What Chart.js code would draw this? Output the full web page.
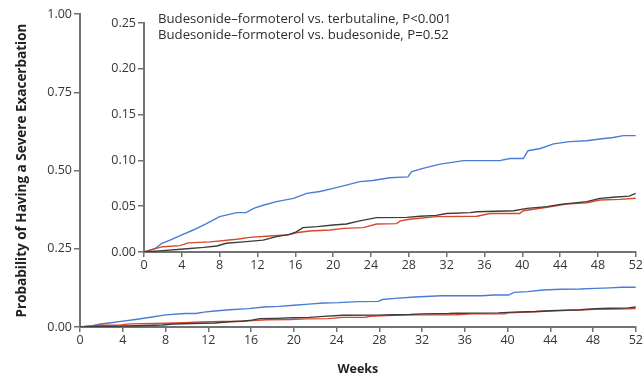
<!DOCTYPE html>
<html>
<head>
<meta charset="utf-8">
<script src="https://cdn.jsdelivr.net/npm/chart.js@4/dist/chart.umd.min.js"></script>
<style>
  html, body { margin: 0; padding: 0; background: #fff; }
  #wrap { position: relative; width: 644px; height: 380px; }
  #main { position: absolute; left: 0; top: 0; }
  #inset { position: absolute; left: 96px; top: 0; }
</style>
</head>
<body>
<div id="wrap">
  <canvas id="main" width="644" height="380"></canvas>
  <canvas id="inset" width="548" height="285"></canvas>
</div>
<script>
// Cumulative probability of a severe exacerbation, by week
const terbutalineWeeks = [0, 1.2, 1.9, 2.75, 4, 5.2, 6.6, 8.0, 9.8, 10.8, 11.6, 12.6, 14, 15.8, 17.2, 18.6, 20, 21.4, 22.8, 24.2, 26, 27.9, 28.3, 29.5, 31.3, 33.8, 37.6, 38.7, 40.1, 40.6, 41.9, 43.3, 45, 46.8, 48.2, 49.6, 50.7, 52];
const terbutalineProb = [0, 0.004, 0.0095, 0.013, 0.0186, 0.024, 0.031, 0.0386, 0.043, 0.043, 0.0476, 0.051, 0.055, 0.0586, 0.064, 0.066, 0.0695, 0.073, 0.0768, 0.078, 0.081, 0.082, 0.0877, 0.0913, 0.096, 0.0997, 0.0997, 0.102, 0.102, 0.1106, 0.113, 0.118, 0.1205, 0.1215, 0.1234, 0.125, 0.127, 0.127];

const budFormWeeks = [0, 1.3, 2.0, 3.8, 4.7, 7.0, 9.8, 11.2, 13.3, 15.1, 16.1, 17.5, 19.7, 21.1, 23.2, 24.6, 26.7, 27.1, 28.1, 30.9, 35.2, 36.6, 39.7, 40.1, 42.6, 44.7, 46.8, 48.2, 50.3, 52];
const budFormProb = [0, 0.004, 0.0058, 0.0069, 0.010, 0.011, 0.0139, 0.016, 0.0175, 0.0186, 0.021, 0.023, 0.024, 0.0258, 0.0266, 0.0306, 0.031, 0.034, 0.0357, 0.0386, 0.039, 0.042, 0.042, 0.045, 0.0488, 0.0524, 0.0538, 0.0568, 0.0575, 0.0586];

const budesonideWeeks = [0, 2.0, 4.2, 6.3, 7.7, 8.7, 10.5, 12.6, 14, 15.4, 16.1, 16.8, 18.3, 20, 21.4, 22.8, 24.6, 27.8, 29.2, 30.9, 32, 34.5, 35.2, 39.1, 40.5, 42.6, 44.0, 46.8, 48.2, 49.6, 51.3, 52];
const budesonideProb = [0, 0.0015, 0.0033, 0.005, 0.0066, 0.0095, 0.011, 0.013, 0.0168, 0.0193, 0.022, 0.0266, 0.0277, 0.0295, 0.0306, 0.034, 0.0375, 0.0378, 0.039, 0.040, 0.042, 0.043, 0.044, 0.045, 0.0476, 0.0495, 0.052, 0.055, 0.0586, 0.0597, 0.061, 0.064];

const pValueLines = [
  'Budesonide\u2013formoterol vs. terbutaline, P<0.001',
  'Budesonide\u2013formoterol vs. budesonide, P=0.52'
];
const mainYTicks = [0, 0.25, 0.5, 0.75, 1.0];
const insetYTicks = [0, 0.05, 0.10, 0.15, 0.20, 0.25];
const weekTicks = [0, 4, 8, 12, 16, 20, 24, 28, 32, 36, 40, 44, 48, 52];

const FONT = '"Open Sans", "DejaVu Sans", sans-serif';
const AXIS = '#727272';
const TICKTXT = '#363636';

function pts(xs, ys) { return xs.map((x, i) => ({ x: x, y: ys[i] })); }

function datasets() {
  return [
    { data: pts(budesonideWeeks, budesonideProb), borderColor: '#3c3c3c', borderWidth: 1.4 },
    { data: pts(budFormWeeks, budFormProb), borderColor: '#d8472c', borderWidth: 1.4 },
    { data: pts(terbutalineWeeks, terbutalineProb), borderColor: '#4a7bd6', borderWidth: 1.4 }
  ].map(d => Object.assign(d, { pointRadius: 0, fill: false, tension: 0 }));
}

function weekAxis(height, withTitle) {
  return {
    type: 'linear', min: 0, max: 52,
    afterBuildTicks: s => { s.ticks = weekTicks.map(v => ({ value: v })); },
    ticks: { color: TICKTXT, font: { family: FONT, size: 12.5 }, padding: 1, maxRotation: 0,
             callback: v => String(v) },
    grid: { drawOnChartArea: false, drawTicks: true, tickLength: 5, color: AXIS, lineWidth: 1.5 },
    border: { color: AXIS, width: 2 },
    title: withTitle ? { display: true, text: 'Weeks', color: '#222',
      font: { family: FONT, size: 12.5, weight: 'bold' }, padding: { top: 0, bottom: 3 } } : { display: false },
    afterFit: s => { s.height = height; }
  };
}

function probAxis(max, tickVals, width, withTitle) {
  return {
    type: 'linear', min: 0, max: max,
    afterBuildTicks: s => { s.ticks = tickVals.map(v => ({ value: v })); },
    ticks: { color: TICKTXT, font: { family: FONT, size: 12.5 }, padding: 2,
             callback: v => Number(v).toFixed(2) },
    grid: { drawOnChartArea: false, drawTicks: true, tickLength: 6, color: AXIS, lineWidth: 1.5 },
    border: { color: AXIS, width: 2 },
    title: withTitle ? { display: true, text: 'Probability of Having a Severe Exacerbation', color: '#222',
      font: { family: FONT, size: 13.5, weight: 'bold' }, padding: { top: 14, bottom: 0 } } : { display: false },
    afterFit: s => { s.width = width; }
  };
}

const common = {
  responsive: false,
  animation: false,
  events: [],
  plugins: { legend: { display: false }, tooltip: { enabled: false } }
};

new Chart(document.getElementById('main'), {
  type: 'line',
  data: { datasets: datasets() },
  options: Object.assign({}, common, {
    layout: { padding: { top: 14, right: 7, left: 0, bottom: 0 } },
    scales: {
      x: weekAxis(53, true),
      y: probAxis(1, mainYTicks, 80, true)
    }
  })
});

const pValueText = {
  id: 'pValueText',
  afterDraw(chart) {
    const ctx = chart.ctx;
    ctx.save();
    ctx.font = '13.2px ' + FONT;
    ctx.fillStyle = '#2e2e2e';
    ctx.textBaseline = 'middle';
    ctx.textAlign = 'left';
    const x = chart.chartArea.left + 14;
    pValueLines.forEach((t, i) => ctx.fillText(t, x, 19 + i * 16.5));
    ctx.restore();
  }
};

new Chart(document.getElementById('inset'), {
  type: 'line',
  data: { datasets: datasets() },
  options: Object.assign({}, common, {
    layout: { padding: { top: 23, right: 8, left: 0, bottom: 0 } },
    scales: {
      x: weekAxis(33, false),
      y: probAxis(0.25, insetYTicks, 48, false)
    }
  }),
  plugins: [pValueText]
});
</script>
</body>
</html>
